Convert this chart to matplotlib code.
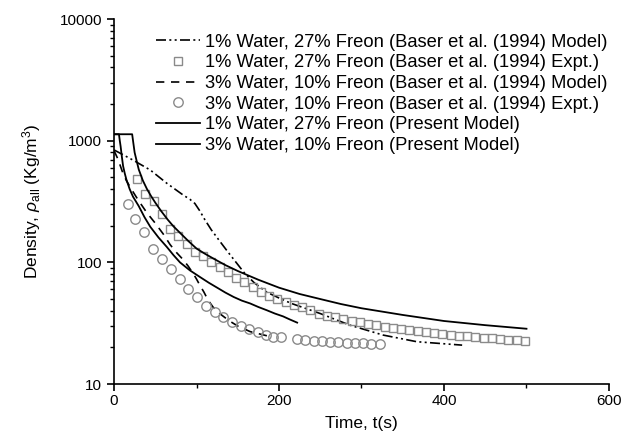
import matplotlib
matplotlib.use("Agg")
import matplotlib.pyplot as plt
from matplotlib.ticker import LogLocator, NullFormatter, MultipleLocator

plt.rcParams["font.family"] = ["Liberation Sans", "DejaVu Sans"]
plt.rcParams["mathtext.fontset"] = "custom"
plt.rcParams["mathtext.rm"] = "Liberation Sans"
plt.rcParams["mathtext.it"] = "Liberation Sans:italic"

# ---------------------------------------------------#
# data
# ---------------------------------------------------#
# Baser et al. (1994) model, 1% water / 27% freon (dash-dot)
baser1_t = [0, 23, 44, 64, 84, 92, 98, 104, 110, 118, 128, 138, 148, 158, 170, 185, 200, 215, 250, 286, 326, 367, 422]
baser1_rho = [840, 693, 574, 447, 357, 330, 305, 265, 225, 185, 150, 122, 100, 82, 68, 57, 51, 46, 38, 30.5, 25.3, 22.3, 20.9]

# Baser et al. (1994) experiment, 1% water / 27% freon (squares)
expt1_t = [28, 38, 48, 58, 68, 78, 88, 98, 108, 118, 128, 138, 148, 158, 168, 178,
           188, 198, 208, 218, 228, 238, 248, 258, 268, 278, 288, 298, 308, 318, 328, 338,
           348, 358, 368, 378, 388, 398, 408, 418, 428, 438, 448, 458, 468, 478, 488, 498]
expt1_rho = [484, 365, 321, 249, 188, 166, 141, 121, 113, 100, 91, 83, 74, 68.6, 62.4, 57.4,
             53.2, 50, 47.5, 44.6, 42.7, 40.5, 38, 36.4, 35.7, 34.2, 33.1, 32.1, 31.1, 30.5, 29.6, 29.0,
             28.3, 27.7, 27.2, 26.7, 26.2, 25.8, 25.4, 25.0, 24.7, 24.4, 24.1, 23.8, 23.5, 23.2, 23.0, 22.7]

# Baser et al. (1994) model, 3% water / 10% freon (dashed)
baser3_t = [0, 5, 10, 15, 22, 30, 40, 50, 60, 68, 76, 84, 90, 96, 100, 104, 109, 114, 120, 128, 140, 150, 165, 190]
baser3_rho = [830, 700, 560, 470, 390, 320, 255, 210, 170, 140, 120, 105, 93, 81, 73, 65, 57, 49, 43, 38, 33, 30, 27, 24.5]

# Baser et al. (1994) experiment, 3% water / 10% freon (circles)
expt3_t = [17, 26, 36, 47, 58, 69, 80, 90, 100, 111, 122, 132, 143, 154, 164, 174, 184, 193, 203,
           222, 232, 242, 252, 262, 272, 282, 292, 302, 312, 322]
expt3_rho = [301, 227, 179, 130, 106, 88, 73, 60, 51.6, 44, 38.8, 35.3, 32.5, 30.1, 28.3, 26.6, 25.3, 24.5, 24.2,
             23.4, 23.0, 22.7, 22.4, 22.2, 22.0, 21.9, 21.7, 21.6, 21.4, 21.3]

# present model, 1% water / 27% freon
model1_t = [0, 22, 23.5, 25, 27.5, 30, 35, 40, 45, 50, 57, 65, 72, 80, 90, 100, 110, 120, 135, 150, 175,
            200, 225, 250, 275, 300, 350, 400, 450, 500]
model1_rho = [1130, 1130, 950, 800, 680, 580, 470, 400, 350, 310, 265, 225, 198, 175, 150, 130, 118, 108, 95, 85, 72,
              62, 55, 50, 45.5, 42, 37, 33, 30.5, 28.5]

# present model, 3% water / 10% freon
model3_t = [0, 6, 7, 8, 9.5, 11, 13, 15, 19, 23, 30, 37, 44, 54, 64, 72, 80, 92, 104, 115, 125, 135, 145, 155,
            165, 175, 185, 195, 205, 213, 222]
model3_rho = [1130, 1130, 1000, 900, 740, 620, 540, 480, 400, 347, 290, 235, 196, 160, 134, 115, 100, 86, 76, 68, 62,
              56.5, 52, 48.5, 46, 43, 40.5, 38, 36, 34, 32]

labels = ["1% Water, 27% Freon (Baser et al. (1994) Model)",
          "1% Water, 27% Freon (Baser et al. (1994) Expt.)",
          "3% Water, 10% Freon (Baser et al. (1994) Model)",
          "3% Water, 10% Freon (Baser et al. (1994) Expt.)",
          "1% Water, 27% Freon (Present Model)",
          "3% Water, 10% Freon (Present Model)"]

# ---------------------------------------------------#
# plot
# ---------------------------------------------------#
fig = plt.figure(figsize=(6.23, 4.42), dpi=100)
ax = fig.add_axes([0.183, 0.131, 0.7945, 0.826])

grey = "#8a8a8a"
ax.plot(baser1_t, baser1_rho, color="black", lw=1.2, ls=(0, (6, 2, 1.2, 2, 1.2, 2)), label=labels[0])
ax.plot(expt1_t, expt1_rho, ls="none", marker="s", ms=6, mfc="none", mec=grey, mew=1.0, label=labels[1])
ax.plot(baser3_t, baser3_rho, color="black", lw=1.2, ls=(0, (5, 4)), label=labels[2])
ax.plot(expt3_t, expt3_rho, ls="none", marker="o", ms=6.8, mfc="none", mec=grey, mew=1.0, label=labels[3])
ax.plot(model1_t, model1_rho, color="black", lw=1.3, label=labels[4])
ax.plot(model3_t, model3_rho, color="black", lw=1.3, label=labels[5])

ax.set_yscale("log")
ax.set_xlim(0, 600)
ax.set_ylim(10, 10000)
ax.xaxis.set_major_locator(MultipleLocator(200))
ax.xaxis.set_minor_locator(MultipleLocator(100))
ax.yaxis.set_minor_locator(LogLocator(base=10, subs=range(2, 10)))
ax.yaxis.set_minor_formatter(NullFormatter())
ax.set_yticks([10, 100, 1000, 10000])
ax.set_yticklabels(["10", "100", "1000", "10000"])

for side in ["top", "right"]:
    ax.spines[side].set_visible(False)
for side in ["left", "bottom"]:
    ax.spines[side].set_linewidth(1.2)
ax.tick_params(which="major", direction="out", length=5, width=1.2, labelsize=11)
ax.tick_params(which="minor", direction="out", length=3, width=1.0)
ax.tick_params(axis="x", which="major", pad=2)

ax.set_xlabel("Time, t(s)", fontsize=12.5, labelpad=6)
ax.set_ylabel(r"Density, $\rho_{\rm all}$ (Kg/m$^3$)", fontsize=12.5, labelpad=12)

ax.legend(loc="upper right", bbox_to_anchor=(1.02, 0.99), frameon=False, fontsize=13.2,
          handlelength=2.4, handletextpad=0.3, labelspacing=0.2, borderaxespad=0.2)

plt.savefig("out.png", dpi=100)
plt.close()
